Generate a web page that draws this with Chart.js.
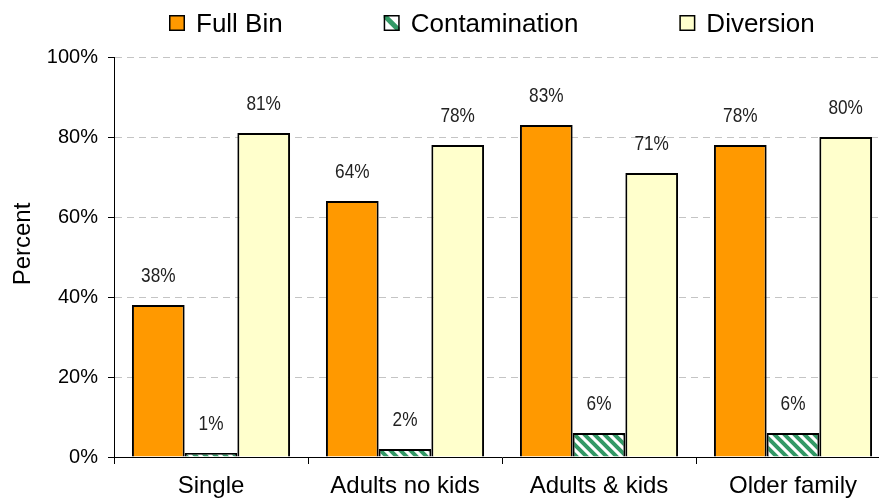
<!DOCTYPE html>
<html><head><meta charset="utf-8">
<script src="https://cdn.jsdelivr.net/npm/chart.js@4/dist/chart.umd.min.js"></script>
<style>
html,body{margin:0;padding:0;background:#fff;overflow:hidden;}
#wrap{position:relative;width:890px;height:503px;}
</style></head><body>
<div id="wrap"><canvas id="c" width="890" height="503"></canvas></div>
<script>
const categories = ['Single', 'Adults no kids', 'Adults & kids', 'Older family'];
const seriesNames = ['Full Bin', 'Contamination', 'Diversion'];
const fullBin = [38, 64, 83, 78];
const contamination = [1, 2, 6, 6];
const diversion = [81, 78, 71, 80];
const yTickValues = [0, 20, 40, 60, 80, 100];
const yTitle = 'Percent';

const GREEN = '#339966';
const canvas = document.getElementById('c');
const mainCtx = canvas.getContext('2d');

function makeHatch() {
  const s = 10;
  const t = document.createElement('canvas');
  t.width = s; t.height = s;
  const g = t.getContext('2d');
  g.fillStyle = '#fff'; g.fillRect(0, 0, s, s);
  g.strokeStyle = GREEN; g.lineWidth = 4; g.beginPath();
  for (const k of [-s, 0, s]) { g.moveTo(k - 2, -2); g.lineTo(k + s + 2, s + 2); }
  g.stroke();
  return mainCtx.createPattern(t, 'repeat');
}
const hatch = makeHatch();

const legendPlugin = {
  id: 'customLegend',
  afterDraw(chart) {
    const ctx = chart.ctx;
    ctx.save();
    ctx.font = '26px "Liberation Sans", Arial, sans-serif';
    ctx.textBaseline = 'alphabetic';
    ctx.textAlign = 'left';
    let x = 169;
    const boxY = 15, box = 16, baseY = 32;
    chart.data.datasets.forEach((ds, i) => {
      if (ds.legendHatch) {
        ctx.fillStyle = '#fff'; ctx.fillRect(x, boxY, box, box);
        ctx.save();
        ctx.beginPath(); ctx.rect(x, boxY, box, box); ctx.clip();
        ctx.strokeStyle = GREEN; ctx.lineWidth = 5;
        ctx.beginPath(); ctx.moveTo(x - 1, boxY - 1); ctx.lineTo(x + box + 1, boxY + box + 1); ctx.stroke();
        ctx.restore();
      } else {
        ctx.fillStyle = ds.backgroundColor; ctx.fillRect(x, boxY, box, box);
      }
      ctx.strokeStyle = '#000'; ctx.lineWidth = 1.5;
      ctx.strokeRect(x + 0.75, boxY + 0.75, box - 1.5, box - 1.5);
      x += box + 11;
      ctx.fillStyle = '#000';
      ctx.fillText(ds.label, x, baseY);
      x += ctx.measureText(ds.label).width + 101;
    });
    ctx.restore();
  }
};

const valueLabelPlugin = {
  id: 'valueLabels',
  afterDatasetsDraw(chart) {
    const ctx = chart.ctx;
    chart.data.datasets.forEach((ds, i) => {
      const meta = chart.getDatasetMeta(i);
      meta.data.forEach((el, j) => {
        ctx.save();
        ctx.translate(el.x, el.y - 23);
        ctx.scale(0.82, 1);
        ctx.font = '21px "Liberation Sans", Arial, sans-serif';
        ctx.fillStyle = '#222';
        ctx.textAlign = 'center';
        ctx.textBaseline = 'alphabetic';
        ctx.fillText(ds.data[j] + '%', 0, 0);
        ctx.restore();
      });
    });
  }
};

const yTitlePlugin = {
  id: 'yTitle',
  afterDraw(chart) {
    const ctx = chart.ctx;
    ctx.save();
    ctx.translate(30, 244);
    ctx.rotate(-Math.PI / 2);
    ctx.font = '24px "Liberation Sans", Arial, sans-serif';
    ctx.fillStyle = '#000';
    ctx.textAlign = 'center';
    ctx.textBaseline = 'alphabetic';
    ctx.fillText(yTitle, 0, 0);
    ctx.restore();
  }
};

new Chart(canvas, {
  type: 'bar',
  data: {
    labels: categories,
    datasets: [
      { label: seriesNames[0], data: fullBin, backgroundColor: '#FF9900', borderColor: '#000', borderWidth: 2 },
      { label: seriesNames[1], data: contamination, backgroundColor: hatch, borderColor: '#000', borderWidth: 2, legendHatch: true },
      { label: seriesNames[2], data: diversion, backgroundColor: '#FFFFCC', borderColor: '#000', borderWidth: 2 }
    ]
  },
  plugins: [legendPlugin, valueLabelPlugin, yTitlePlugin],
  options: {
    responsive: false,
    animation: false,
    devicePixelRatio: 1,
    layout: { padding: { top: 57, left: 0, right: 0, bottom: 0 } },
    plugins: { legend: { display: false }, tooltip: { enabled: false }, title: { display: false } },
    datasets: { bar: { categoryPercentage: 0.815, barPercentage: 1.0 } },
    scales: {
      x: {
        offset: true,
        grid: { display: true, drawOnChartArea: false, drawTicks: true, tickLength: 7, tickColor: '#000', offset: true, lineWidth: 1 },
        border: { color: '#000', width: 1, z: 1 },
        ticks: { color: '#000', font: { family: '"Liberation Sans", Arial, sans-serif', size: 24 }, padding: 8, maxRotation: 0, autoSkip: false },
        afterFit(s) { s.height = 46; }
      },
      y: {
        min: 0, max: 100,
        afterBuildTicks(s) { s.ticks = yTickValues.map(v => ({ value: v })); },
        ticks: { color: '#000', font: { family: '"Liberation Sans", Arial, sans-serif', size: 20 }, padding: 10, callback: v => v + '%' },
        grid: { color: ctx => (ctx.tick && ctx.tick.value === 0) ? 'rgba(0,0,0,0)' : '#c4c4c4', tickColor: '#000', tickLength: 6, lineWidth: 1 },
        border: { color: '#000', width: 1, dash: [7, 5] },
        afterFit(s) { s.width = 114; }
      }
    }
  }
});
</script>
</body></html>
